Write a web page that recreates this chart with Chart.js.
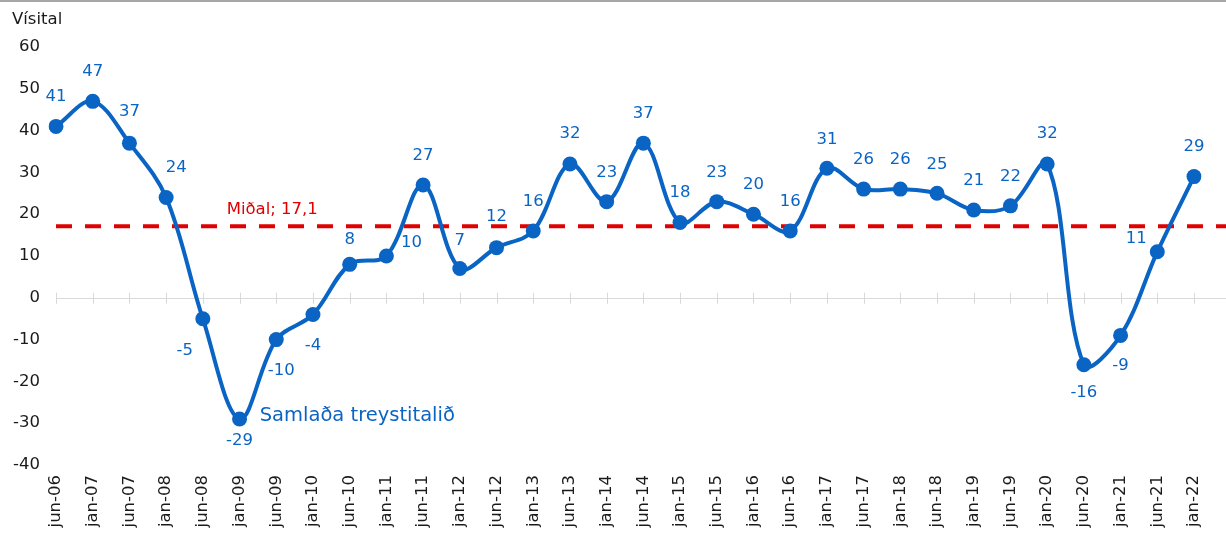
<!DOCTYPE html>
<html>
<head>
<meta charset="utf-8">
<script src="https://cdn.jsdelivr.net/npm/chart.js@4.4.1/dist/chart.umd.min.js"></script>
<style>
  html, body { margin: 0; padding: 0; background: #ffffff; }
  #wrap { width: 1226px; height: 533px; position: relative; }
</style>
</head>
<body>
<div id="wrap"><canvas id="chartTraust"></canvas></div>
<script>
// ===== SAMLAÐA TREYSTITALIÐ =====

const periods = ['jun-06', 'jan-07', 'jun-07', 'jan-08', 'jun-08', 'jan-09', 'jun-09', 'jan-10',
  'jun-10', 'jan-11', 'jun-11', 'jan-12', 'jun-12', 'jan-13', 'jun-13', 'jan-14',
  'jun-14', 'jan-15', 'jun-15', 'jan-16', 'jun-16', 'jan-17', 'jun-17', 'jan-18',
  'jun-18', 'jan-19', 'jun-19', 'jan-20', 'jun-20', 'jan-21', 'jun-21', 'jan-22'];

const indexValues = [41, 47, 37, 24, -5, -29, -10, -4, 8, 10, 27, 7, 12, 16, 32, 23,
  37, 18, 23, 20, 16, 31, 26, 26, 25, 21, 22, 32, -16, -9, 11, 29];

const meanValue = 17.1;
const meanLabel = 'Miðal; 17,1';
const seriesName = 'Samlaða treystitalið';
const axisTitle = 'Vísital';
const yTicks = [-40, -30, -20, -10, 0, 10, 20, 30, 40, 50, 60];

// where each value label sits relative to its marker (dx, dy in px)
const labelOffsets = [
  [0, -30], [0, -30], [0, -31], [10, -30], [-18, 32], [0, 22], [5, 31], [0, 31],
  [0, -25], [25, -13], [0, -29], [0, -28], [0, -31], [0, -29], [0, -30], [0, -29],
  [0, -29], [0, -30], [0, -29], [0, -29], [0, -29], [0, -29], [0, -29], [0, -29],
  [0, -29], [0, -29], [0, -29], [0, -30], [0, 28], [0, 30], [-21, -13], [0, -30]
];

const BLUE = '#0a64c4';
const RED = '#e00000';
const FONT = "'DejaVu Sans', Verdana, sans-serif";

const decorPlugin = {
  id: 'decor',
  beforeDatasetsDraw(chart) {
    const { ctx, chartArea, scales } = chart;
    const y0 = scales.y.getPixelForValue(0);
    ctx.save();
    // top border
    ctx.strokeStyle = '#a6a6a6';
    ctx.lineWidth = 2;
    ctx.beginPath();
    ctx.moveTo(0, 1);
    ctx.lineTo(chart.width, 1);
    ctx.stroke();
    // zero line with category ticks
    ctx.strokeStyle = '#d9d9d9';
    ctx.lineWidth = 1;
    ctx.beginPath();
    ctx.moveTo(chartArea.left, Math.round(y0) + 0.5);
    ctx.lineTo(chart.width, Math.round(y0) + 0.5);
    periods.forEach((p, i) => {
      const x = Math.round(scales.x.getPixelForValue(i)) + 0.5;
      ctx.moveTo(x, y0 - 5);
      ctx.lineTo(x, y0 + 6);
    });
    ctx.stroke();
    // mean line
    const ym = scales.y.getPixelForValue(meanValue);
    ctx.strokeStyle = RED;
    ctx.lineWidth = 4;
    ctx.setLineDash([16, 13]);
    ctx.beginPath();
    ctx.moveTo(chartArea.left, ym);
    ctx.lineTo(chart.width, ym);
    ctx.stroke();
    ctx.setLineDash([]);
    ctx.fillStyle = RED;
    ctx.font = '16.5px ' + FONT;
    ctx.textAlign = 'left';
    ctx.textBaseline = 'middle';
    ctx.fillText(meanLabel, scales.x.getPixelForValue(4.65), ym - 17);
    // axis title
    ctx.fillStyle = '#1a1a1a';
    ctx.fillText(axisTitle, 12, 20);
    ctx.restore();
  },
  afterDatasetsDraw(chart) {
    const { ctx, scales } = chart;
    const meta = chart.getDatasetMeta(0);
    ctx.save();
    ctx.fillStyle = BLUE;
    ctx.font = '16.5px ' + FONT;
    ctx.textAlign = 'center';
    ctx.textBaseline = 'middle';
    meta.data.forEach((pt, i) => {
      const off = labelOffsets[i];
      ctx.fillText(String(indexValues[i]), pt.x + off[0], pt.y + off[1]);
    });
    // series name
    ctx.font = '19.5px ' + FONT;
    ctx.textAlign = 'left';
    ctx.fillText(seriesName, scales.x.getPixelForValue(5.55), scales.y.getPixelForValue(-28.3));
    ctx.restore();
  }
};

new Chart(document.getElementById('chartTraust'), {
  type: 'line',
  data: {
    labels: periods,
    datasets: [{
      label: seriesName,
      data: indexValues,
      borderColor: BLUE,
      backgroundColor: BLUE,
      borderWidth: 4,
      pointRadius: 7.5,
      pointBackgroundColor: BLUE,
      pointBorderWidth: 0,
      tension: 0.35,
      fill: false,
    }]
  },
  options: {
    responsive: true,
    maintainAspectRatio: false,
    animation: false,
    layout: { padding: { top: 47, right: 32, left: 0, bottom: 0 } },
    plugins: {
      legend: { display: false },
      tooltip: { enabled: false }
    },
    scales: {
      x: {
        grid: { display: false, drawTicks: false },
        border: { display: false },
        ticks: {
          autoSkip: false,
          minRotation: 90,
          maxRotation: 90,
          padding: 10,
          color: '#1a1a1a',
          font: { size: 16.5, family: FONT }
        },
        afterFit(scale) { scale.height = 68; }
      },
      y: {
        min: -40,
        max: 60,
        grid: { display: false, drawTicks: false },
        border: { display: false },
        afterBuildTicks(scale) { scale.ticks = yTicks.map(v => ({ value: v })); },
        ticks: {
          padding: 16,
          color: '#1a1a1a',
          font: { size: 16.5, family: FONT }
        },
        afterFit(scale) { scale.width = 56; }
      }
    }
  },
  plugins: [decorPlugin]
});
</script>
</body>
</html>
